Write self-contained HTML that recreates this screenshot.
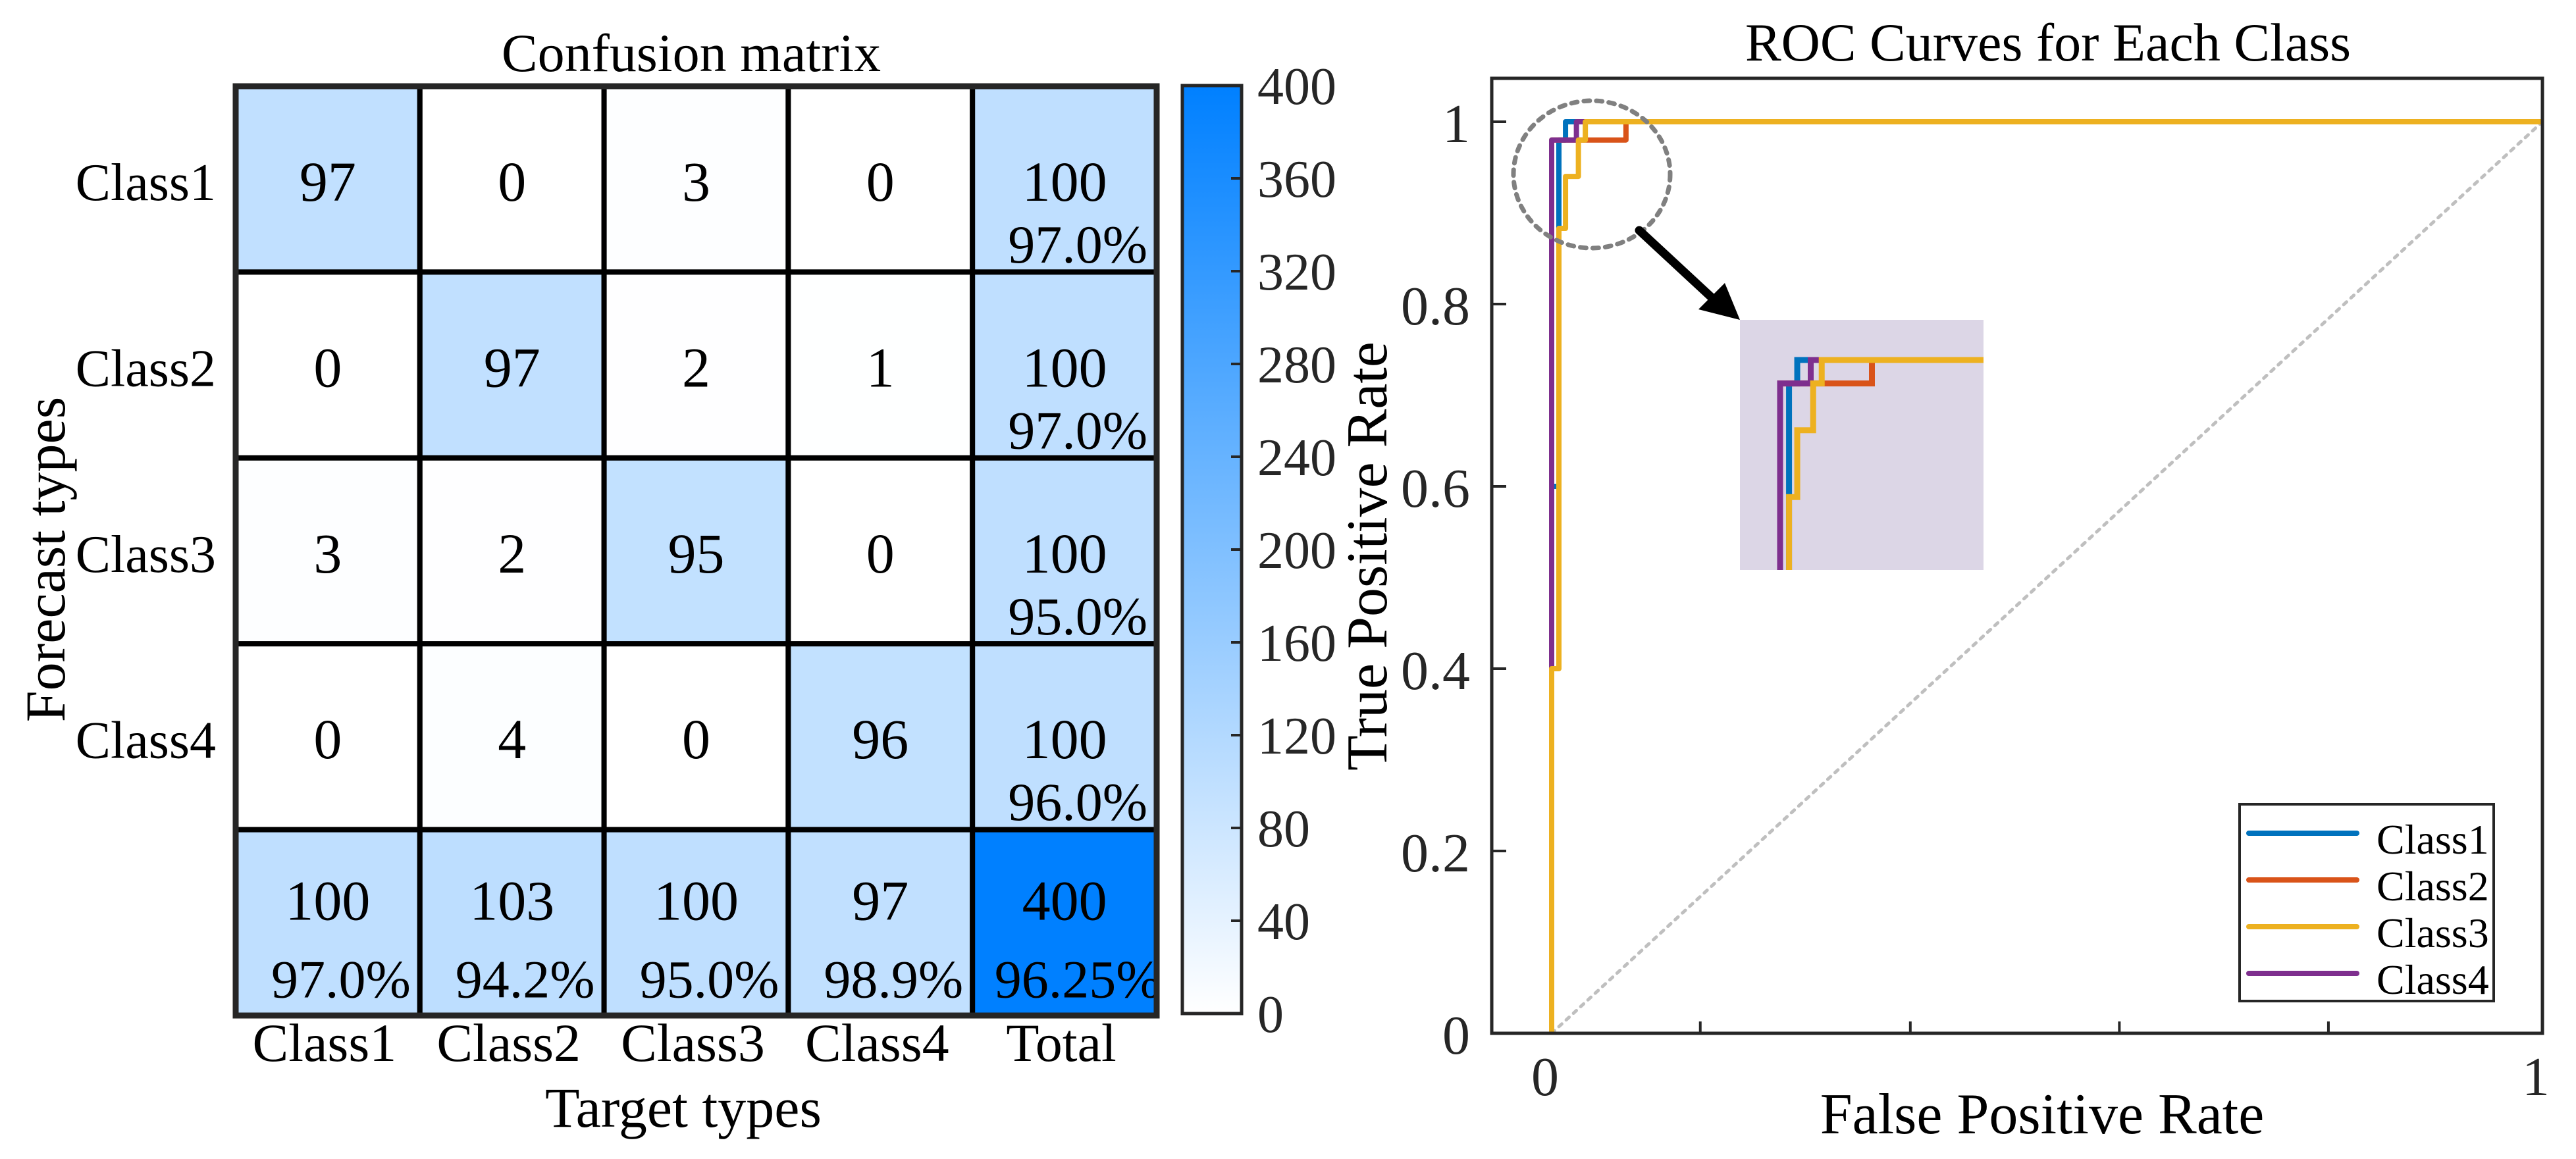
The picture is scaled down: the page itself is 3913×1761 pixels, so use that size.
<!DOCTYPE html>
<html><head><meta charset="utf-8"><style>
html,body{margin:0;padding:0;background:#fff;width:3913px;height:1761px;overflow:hidden;}
svg{display:block;font-family:"Liberation Serif",serif;}
</style></head><body>
<svg id="fig" width="3913" height="1761" viewBox="0 0 3913 1761" xmlns="http://www.w3.org/2000/svg">
<defs>
<linearGradient id="cbgrad" x1="0" y1="1" x2="0" y2="0">
<stop offset="0" stop-color="#ffffff"/><stop offset="1" stop-color="#0080ff"/>
</linearGradient>
<clipPath id="insetclip"><rect x="2643" y="486" width="370" height="380"/></clipPath>
</defs>
<g id="cm"></g>
<g id="roc"></g>
</svg>
<script>
// ===== Confusion matrix data =====
const cmRowLabels = ["Class1","Class2","Class3","Class4"];
const cmColLabels = ["Class1","Class2","Class3","Class4","Total"];
const cmCounts = [[97,0,3,0],[0,97,2,1],[3,2,95,0],[0,4,0,96]];
const cmRowTotals = [100,100,100,100];
const cmRowPct = ["97.0%","97.0%","95.0%","96.0%"];
const cmColTotals = [100,103,100,97];
const cmColPct = ["97.0%","94.2%","95.0%","98.9%"];
const cmGrandTotal = 400;
const cmGrandPct = "96.25%";
const cbTicks = [0,40,80,120,160,200,240,280,320,360,400];
const cbMax = 400;

// ===== ROC data =====
const rocClasses = ["Class1","Class2","Class3","Class4"];
const rocColors = ["#0072bd","#d95319","#edb120","#7e2f8e"];
const rocFpr1 = [0,0,0.0073,0.0073,0.014,0.014,1];
const rocTpr1 = [0,0.6,0.6,0.98,0.98,1,1];
const rocFpr2 = [0,0,0.075,0.075,1];
const rocTpr2 = [0,0.98,0.98,1,1];
const rocFpr3 = [0,0,0.0073,0.0073,0.014,0.014,0.027,0.027,0.034,0.034,1];
const rocTpr3 = [0,0.4,0.4,0.883,0.883,0.94,0.94,0.98,0.98,1,1];
const rocFpr4 = [0,0,0.025,0.025,1];
const rocTpr4 = [0,0.98,0.98,1,1];
const rocYTicks = [0,0.2,0.4,0.6,0.8,1];
const rocYTickLabels = ["0","0.2","0.4","0.6","0.8","1"];
const rocXTicks = [0.15,0.362,0.573,0.784];
const rocXLabelVals = [0,1];
const rocXLabels = ["0","1"];

const NS="http://www.w3.org/2000/svg";
function mk(parent,tag,attrs,text){const e=document.createElementNS(NS,tag);for(const k in attrs)e.setAttribute(k,attrs[k]);if(text!==undefined)e.textContent=text;parent.appendChild(e);return e;}

// ----- Confusion matrix -----
const cm=document.getElementById('cm');
const L=358,T=131,CW=279.8,CH=282.4;
function cmColor(v){const f=Math.min(1,v/cbMax);const r=Math.round(255*(1-f)),g=Math.round(255-127*f);return `rgb(${r},${g},255)`;}
let t=mk(cm,'text',{x:1050,y:108,'font-size':82,'text-anchor':'middle',fill:'#000'},"Confusion matrix");


for(let r=0;r<5;r++){for(let c=0;c<5;c++){
  let v,num,pct=null;
  if(r<4&&c<4){v=cmCounts[r][c];num=v;}
  else if(r<4&&c===4){v=cmRowTotals[r];num=v;pct=cmRowPct[r];}
  else if(r===4&&c<4){v=cmColTotals[c];num=v;pct=cmColPct[c];}
  else {v=cmGrandTotal;num=v;pct=cmGrandPct;}
  const x=L+c*CW,y=T+r*CH;
  const rc=mk(cm,'rect',{x:x,y:y,width:CW,height:CH,fill:cmColor(v),stroke:'#000','stroke-width':8});
  
  
  const nb = r===4 ? y+137 : y+174;
  const tn=mk(cm,'text',{x:x+CW/2,y:nb,'font-size':86,'text-anchor':'middle',fill:'#000'},String(num));
  
  
  if(pct){const pb = r===4 ? y+255 : y+268;
    const tp=mk(cm,'text',{x:x+CW/2+20,y:pb,'font-size':82,'text-anchor':'middle',fill:'#000'},pct);
    
    }
}}
mk(cm,'rect',{x:L,y:T,width:CW*5,height:CH*5,fill:'none',stroke:'#262626','stroke-width':9});
cmRowLabels.forEach((s,i)=>{const e=mk(cm,'text',{x:328,y:T+i*CH+CH/2+32,'font-size':80,'text-anchor':'end',fill:'#000'},s);
  
  });
cmColLabels.forEach((s,i)=>{const e=mk(cm,'text',{x:L+i*CW+CW/2-5,y:1612,'font-size':82,'text-anchor':'middle',fill:'#000'},s);
  
  });
t=mk(cm,'text',{x:1038,y:1712,'font-size':86,'text-anchor':'middle',fill:'#000'},"Target types");


t=mk(cm,'text',{x:0,y:0,'font-size':86,'text-anchor':'middle',fill:'#000',transform:'translate(98,850) rotate(-90)'},"Forecast types");


// colorbar
const cbL=1796,cbR=1886,cbT=130,cbB=1540;
function cbY(v){return cbB-(v/cbMax)*(cbB-cbT);}
let cb=mk(cm,'rect',{x:cbL,y:cbT,width:cbR-cbL,height:cbB-cbT,fill:'url(#cbgrad)',stroke:'#262626','stroke-width':5});


cbTicks.forEach(v=>{const y=cbY(v);
  if(v>0&&v<cbMax)mk(cm,'line',{x1:cbR-16,y1:y,x2:cbR,y2:y,stroke:'#262626','stroke-width':4});
  const e=mk(cm,'text',{x:1910,y:y+28,'font-size':80,fill:'#262626'},String(v));
  
  });

// ----- ROC -----
const roc=document.getElementById('roc');
const AL=2266,AR=3862,AT=119,AB=1570;
const X0=2357,X1=3862,Y0=1570,Y1=185;
function sx(v){return X0+v*(X1-X0);}
function sy(v){return Y0-v*(Y0-Y1);}
t=mk(roc,'text',{x:3111,y:92,'font-size':82,'text-anchor':'middle',fill:'#000'},"ROC Curves for Each Class");


let d=mk(roc,'line',{x1:sx(0),y1:sy(0),x2:sx(1),y2:sy(1),stroke:'#bfbfbf','stroke-width':5,'stroke-dasharray':'6 9','stroke-linecap':'round'});


const series=[[rocFpr1,rocTpr1],[rocFpr2,rocTpr2],[rocFpr4,rocTpr4],[rocFpr3,rocTpr3]];
const seriesIdx=[0,1,3,2];
series.forEach((s,k)=>{const i=seriesIdx[k];
  const pts=s[0].map((x,j)=>sx(x)+','+sy(s[1][j])).join(' ');
  const p=mk(roc,'polyline',{points:pts,fill:'none',stroke:rocColors[i],'stroke-width':8,'stroke-linejoin':'round'});
  
  });
let ax=mk(roc,'rect',{x:AL,y:AT,width:AR-AL,height:AB-AT,fill:'none',stroke:'#262626','stroke-width':5});


rocYTicks.forEach((v,i)=>{const y=sy(v);
  mk(roc,'line',{x1:AL,y1:y,x2:AL+22,y2:y,stroke:'#262626','stroke-width':4});
  const e=mk(roc,'text',{x:2233,y:y+31,'font-size':84,'text-anchor':'end',fill:'#262626'},rocYTickLabels[i]);
  
  });
rocXTicks.forEach(v=>{const x=sx(v);mk(roc,'line',{x1:x,y1:AB,x2:x,y2:AB-18,stroke:'#262626','stroke-width':4});});
rocXLabelVals.forEach((v,i)=>{const e=mk(roc,'text',{x:sx(v)-10,y:1664,'font-size':84,'text-anchor':'middle',fill:'#262626'},rocXLabels[i]);
  
  });
t=mk(roc,'text',{x:3102,y:1722,'font-size':88,'text-anchor':'middle',fill:'#000'},"False Positive Rate");


t=mk(roc,'text',{x:0,y:0,'font-size':88,'text-anchor':'middle',fill:'#000',transform:'translate(2106,845) rotate(-90)'},"True Positive Rate");


let c=mk(roc,'ellipse',{cx:2418,cy:265,rx:119,ry:112,fill:'none',stroke:'#808080','stroke-width':7,'stroke-dasharray':'9 10','stroke-linecap':'round'});


mk(roc,'line',{x1:2490,y1:350,x2:2600,y2:452,stroke:'#000','stroke-width':13,'stroke-linecap':'round'});
let ar=mk(roc,'polygon',{points:'2643,486 2580,470 2620,430',fill:'#000'});


let ins=mk(roc,'g',{});


mk(ins,'rect',{x:2643,y:486,width:370,height:380,fill:'#dcd6e6'});
const IX0=2704,IXS=1860,IY0=547+1780,IYS=1780;
const ig=mk(ins,'g',{'clip-path':'url(#insetclip)'});
series.forEach((s,k)=>{const i=seriesIdx[k];
  const pts=s[0].map((x,j)=>(IX0+x*IXS)+','+(IY0-s[1][j]*IYS)).join(' ');
  const p=mk(ig,'polyline',{points:pts,fill:'none',stroke:rocColors[i],'stroke-width':9});
  
  });
let lg=mk(roc,'g',{});


mk(lg,'rect',{x:3402,y:1222,width:386,height:299,fill:'#fff',stroke:'#262626','stroke-width':4});
rocClasses.forEach((s,i)=>{const y=1266+i*71;
  const ln=mk(lg,'line',{x1:3416,y1:y,x2:3580,y2:y,stroke:rocColors[i],'stroke-width':8,'stroke-linecap':'round'});
  
  
  const e=mk(lg,'text',{x:3610,y:y+31,'font-size':64,fill:'#000'},s);
  
  });
</script>
</body></html>
